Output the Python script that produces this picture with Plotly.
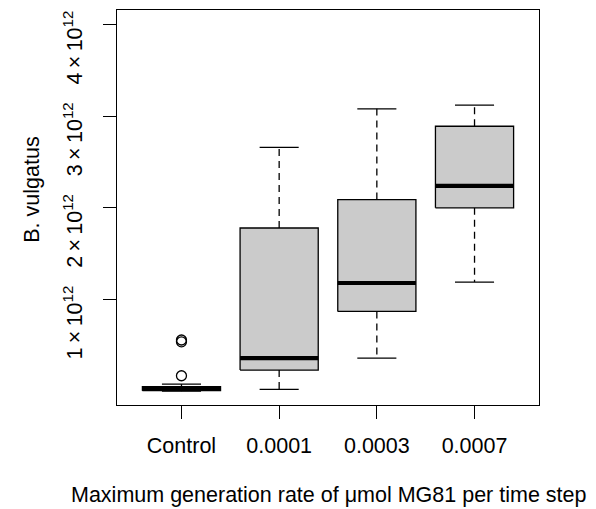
import plotly.graph_objects as go

# ---- data ----
categories = ["Control", "0.0001", "0.0003", "0.0007"]
lower_whisker = [0.0e12, 0.02e12, 0.36e12, 1.19e12]
q1 = [0.005e12, 0.23e12, 0.87e12, 2.00e12]
median = [0.025e12, 0.36e12, 1.18e12, 2.24e12]
q3 = [0.05e12, 1.78e12, 2.09e12, 2.89e12]
upper_whisker = [0.077e12, 2.66e12, 3.08e12, 3.12e12]
outlier_cat = ["Control", "Control", "Control"]
outlier_val = [0.168e12, 0.538e12, 0.558e12]

y_tickvals = [1e12, 2e12, 3e12, 4e12]
y_ticktext = ["1\u2009×\u200910<sup>12</sup>", "2\u2009×\u200910<sup>12</sup>",
              "3\u2009×\u200910<sup>12</sup>", "4\u2009×\u200910<sup>12</sup>"]

# ---- style ----
FONT = "Liberation Sans, Arial, Helvetica, sans-serif"
FS = 21.5
LW = 1.3
HALF = 0.4      # half box width (x units)
CAP = 0.2       # half staple width
BOXFILL = "#cbcbcb"

fig = go.Figure()
pos = {c: i + 1 for i, c in enumerate(categories)}

for i, c in enumerate(categories):
    x = pos[c]
    # whiskers (dashed)
    fig.add_trace(go.Scatter(x=[x, x], y=[q3[i], upper_whisker[i]], mode="lines",
                             line=dict(color="black", width=LW, dash="7px,5px"),
                             hoverinfo="skip", showlegend=False))
    fig.add_trace(go.Scatter(x=[x, x], y=[q1[i], lower_whisker[i]], mode="lines",
                             line=dict(color="black", width=LW, dash="7px,5px"),
                             hoverinfo="skip", showlegend=False))
    # staples
    for v in (upper_whisker[i], lower_whisker[i]):
        fig.add_trace(go.Scatter(x=[x - CAP, x + CAP], y=[v, v], mode="lines",
                                 line=dict(color="black", width=LW),
                                 hoverinfo="skip", showlegend=False))
    # box
    fig.add_trace(go.Scatter(x=[x - HALF, x + HALF, x + HALF, x - HALF, x - HALF],
                             y=[q1[i], q1[i], q3[i], q3[i], q1[i]],
                             mode="lines", fill="toself", fillcolor=BOXFILL,
                             line=dict(color="black", width=LW),
                             hoverinfo="skip", showlegend=False))
    # median
    fig.add_trace(go.Scatter(x=[x - HALF, x + HALF], y=[median[i], median[i]], mode="lines",
                             line=dict(color="black", width=4.2),
                             hoverinfo="skip", showlegend=False))

# outliers
fig.add_trace(go.Scatter(x=[pos[c] for c in outlier_cat], y=outlier_val, mode="markers",
                         marker=dict(symbol="circle-open", size=10, color="black",
                                     line=dict(width=LW, color="black")),
                         hoverinfo="skip", showlegend=False))

# y tick labels (rotated, sitting slightly below their ticks as in the reference)
ytick_annots = [
    dict(text=t, xref="paper", yref="y", x=0, y=v, xanchor="center", yanchor="middle",
         xshift=-44, yshift=-23, textangle=-90, showarrow=False,
         font=dict(family=FONT, size=FS))
    for v, t in zip(y_tickvals, y_ticktext)
]

fig.update_layout(
    width=596, height=509,
    margin=dict(l=117, r=57, t=10, b=104),
    plot_bgcolor="white", paper_bgcolor="white",
    font=dict(family=FONT, size=FS, color="black"),
    showlegend=False,
    xaxis=dict(range=[0.34, 4.66], tickvals=[1, 2, 3, 4], ticktext=categories,
               showline=True, mirror=True, linecolor="black", linewidth=LW,
               ticks="outside", ticklen=13, tickwidth=LW, tickcolor="black",
               showgrid=False, zeroline=False, ticklabelstandoff=8,
               tickfont=dict(family=FONT, size=FS)),
    yaxis=dict(range=[-0.151e12, 4.158e12], tickvals=y_tickvals, showticklabels=False,
               showline=True, mirror=True, linecolor="black", linewidth=LW,
               ticks="outside", ticklen=13, tickwidth=LW, tickcolor="black",
               showgrid=False, zeroline=False),
    annotations=ytick_annots + [
        dict(text="B. vulgatus", xref="paper", yref="paper", x=0, y=0.545,
             xanchor="center", yanchor="middle", xshift=-85, textangle=-90,
             showarrow=False, font=dict(family=FONT, size=FS)),
        dict(text="Maximum generation rate of μmol MG81 per time step", xref="paper", yref="paper",
             x=0.5, y=0, xanchor="center", yanchor="middle", yshift=-90,
             showarrow=False, font=dict(family=FONT, size=FS)),
    ],
)

fig.write_html("out.html")
